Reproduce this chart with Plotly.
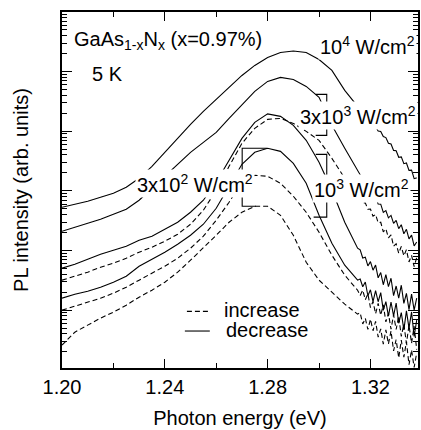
import plotly.graph_objects as go

# Photon energy grid (eV), smooth part and noisy high-energy tail
energy = [1.200, 1.205, 1.210, 1.215, 1.220, 1.225, 1.230, 1.235, 1.240, 1.245,
          1.250, 1.255, 1.260, 1.265, 1.270, 1.275, 1.280, 1.285, 1.290, 1.295,
          1.300, 1.305, 1.310, 1.315]
energy_tail = [1.316, 1.317, 1.318, 1.319, 1.320, 1.321, 1.322, 1.323, 1.324, 1.325,
               1.326, 1.327, 1.328, 1.329, 1.330, 1.331, 1.332, 1.333, 1.334, 1.335,
               1.336, 1.337, 1.338]

# log10 of PL intensity (arb. units)
p1e4_dec = [2.725, 2.776, 2.826, 2.893, 2.960, 3.060, 3.211, 3.412, 3.647, 3.881,
            4.116, 4.333, 4.534, 4.752, 4.936, 5.104, 5.238, 5.322, 5.347, 5.322,
            5.204, 5.020, 4.685, 4.417]
p1e4_dec_tail = [4.363, 4.300, 4.266, 4.193, 4.159, 4.090, 4.077, 4.003, 3.995, 3.911,
                 3.894, 3.798, 3.786, 3.679, 3.672, 3.563, 3.570, 3.456, 3.468, 3.344,
                 3.347, 3.205, 3.218]

p3e3_dec = [2.323, 2.390, 2.457, 2.524, 2.608, 2.692, 2.843, 3.044, 3.261, 3.462,
            3.647, 3.814, 3.982, 4.216, 4.451, 4.668, 4.836, 4.903, 4.869, 4.752,
            4.568, 4.099, 3.714, 3.345]
p3e3_dec_tail = [3.288, 3.196, 3.164, 3.057, 3.035, 2.918, 2.906, 2.779, 2.777, 2.640,
                 2.671, 2.548, 2.589, 2.456, 2.507, 2.367, 2.432, 2.281, 2.356, 2.196,
                 2.259, 2.076, 2.144]

p1e3_dec = [1.704, 1.771, 1.854, 1.938, 2.005, 2.072, 2.173, 2.240, 2.357, 2.474,
            2.642, 2.843, 3.144, 3.513, 3.881, 4.149, 4.291, 4.250, 4.099, 3.848,
            3.479, 3.010, 2.474, 2.039]
p1e3_dec_tail = [2.012, 1.875, 1.888, 1.741, 1.814, 1.670, 1.757, 1.543, 1.630, 1.426,
                 1.596, 1.396, 1.535, 1.245, 1.405, 1.202, 1.418, 1.115, 1.281, 1.008,
                 1.270, 1.002, 1.203]

p3e3_inc = [1.503, 1.570, 1.637, 1.720, 1.787, 1.871, 1.972, 2.055, 2.156, 2.273,
            2.441, 2.675, 3.010, 3.412, 3.797, 4.049, 4.199, 4.216, 4.132, 3.998,
            3.848, 3.546, 3.211, 2.910]
p3e3_inc_tail = [2.883, 2.796, 2.799, 2.692, 2.695, 2.575, 2.605, 2.464, 2.474, 2.314,
                 2.364, 2.213, 2.263, 2.072, 2.112, 1.955, 2.068, 1.912, 2.015, 1.808,
                 1.919, 1.730, 1.881]

p3e2_dec = [1.201, 1.268, 1.318, 1.385, 1.469, 1.570, 1.737, 1.854, 1.972, 2.106,
            2.256, 2.441, 2.709, 3.077, 3.446, 3.647, 3.714, 3.663, 3.462, 3.127,
            2.591, 2.122, 1.754, 1.503]
p3e2_dec_tail = [1.523, 1.393, 1.472, 1.242, 1.342, 1.145, 1.328, 1.141, 1.294, 0.997,
                 1.144, 0.900, 1.137, 0.903, 1.120, 0.780, 0.960, 0.669, 0.989, 0.699,
                 0.970, 0.561, 0.832]

p1e3_inc = [1.000, 1.067, 1.134, 1.201, 1.285, 1.385, 1.503, 1.620, 1.737, 1.871,
            2.039, 2.240, 2.508, 2.809, 3.144, 3.261, 3.245, 3.127, 2.910, 2.642,
            2.307, 1.921, 1.586, 1.335]
p1e3_inc_tail = [1.245, 1.335, 1.174, 1.274, 1.044, 1.147, 0.940, 1.114, 0.917, 1.090,
                 0.803, 0.946, 0.680, 0.923, 0.676, 0.902, 0.559, 0.765, 0.442, 0.748,
                 0.445, 0.731, 0.338]

p3e2_inc = [0.414, 0.631, 0.749, 0.866, 0.966, 1.084, 1.218, 1.335, 1.469, 1.637,
            1.838, 2.039, 2.256, 2.474, 2.642, 2.742, 2.742, 2.591, 2.256, 1.804,
            1.503, 1.302, 1.101, 0.933]
p3e2_inc_tail = [0.956, 0.769, 0.863, 0.676, 0.849, 0.655, 0.812, 0.548, 0.685, 0.431,
                 0.668, 0.434, 0.651, 0.317, 0.504, 0.200, 0.497, 0.213, 0.470, 0.086,
                 0.332, 0.039, 0.285]

x_ticks = [1.20, 1.24, 1.28, 1.32]
x_tick_labels = ["1.20", "1.24", "1.28", "1.32"]
x_minor_ticks = [1.22, 1.26, 1.30, 1.34]

FONT = "Liberation Sans, Arial, Helvetica, sans-serif"
DASH = "5px,3px"

series = [
    (p1e4_dec, p1e4_dec_tail, "solid"),
    (p3e3_dec, p3e3_dec_tail, "solid"),
    (p1e3_dec, p1e3_dec_tail, "solid"),
    (p3e3_inc, p3e3_inc_tail, DASH),
    (p3e2_dec, p3e2_dec_tail, "solid"),
    (p1e3_inc, p1e3_inc_tail, DASH),
    (p3e2_inc, p3e2_inc_tail, DASH),
]

fig = go.Figure()
for main, tail, dash in series:
    fig.add_trace(go.Scatter(
        x=energy + energy_tail, y=[10 ** v for v in main + tail], mode="lines",
        line=dict(color="black", width=1.1, dash=dash),
        showlegend=False, hoverinfo="skip"))

axis_common = dict(showline=True, linecolor="black", linewidth=1.5, mirror="ticks",
                   ticks="inside", tickcolor="black", showgrid=False, zeroline=False,
                   tickfont=dict(size=20, color="black", family=FONT))

fig.update_xaxes(range=[1.20, 1.3385], tickvals=x_ticks, ticktext=x_tick_labels,
                 ticklen=9, tickwidth=1.2,
                 minor=dict(tickvals=x_minor_ticks, ticks="inside",
                            ticklen=5, tickcolor="black", tickwidth=1.2),
                 title=dict(text="Photon energy (eV)",
                            font=dict(size=20, color="black", family=FONT), standoff=14),
                 **axis_common)
fig.update_yaxes(type="log", range=[0.03, 6.0], dtick=1, showticklabels=False,
                 ticklen=10, tickwidth=1.2,
                 minor=dict(ticks="inside", ticklen=5, tickcolor="black", tickwidth=1,
                            dtick="D1"),
                 title=dict(text="PL intensity (arb. units)",
                            font=dict(size=20, color="black", family=FONT), standoff=26),
                 **axis_common)

# brackets linking increase/decrease pairs: (x_tip_top, y_top, x_spine, y_bottom, x_tip_bottom)
# x in eV, y in log10 intensity
brackets = [
    (1.2987, 4.618, 1.3030, 3.931, 1.2987),
    (1.2987, 3.613, 1.3030, 2.560, 1.2979),
    (1.2798, 3.714, 1.2701, 2.742, 1.2755),
]
for xt, yt, xs, yb, xb in brackets:
    fig.add_shape(type="path", xref="x", yref="y",
                  path=f"M {xt} {10 ** yt} L {xs} {10 ** yt} L {xs} {10 ** yb} L {xb} {10 ** yb}",
                  line=dict(color="black", width=1.1))


def label(text, x, y, xanchor="left", bg="white"):
    fig.add_annotation(text=text, x=x, y=y, xref="x", yref="y", xanchor=xanchor,
                       yanchor="middle", showarrow=False, bgcolor=bg, borderpad=1,
                       font=dict(size=20, color="black", family=FONT))


label("GaAs<sub>1-x</sub>N<sub>x</sub> (x=0.97%)", 1.2039, 5.523, bg="rgba(0,0,0,0)")
label("5 K", 1.2108, 4.953, bg="rgba(0,0,0,0)")
label("10<sup>4</sup> W/cm<sup>2</sup>", 1.3380, 5.44, xanchor="right")
label("3x10<sup>3</sup> W/cm<sup>2</sup>", 1.3385, 4.27, xanchor="right")
label("10<sup>3</sup> W/cm<sup>2</sup>", 1.2972, 3.04)
label("3x10<sup>2</sup> W/cm<sup>2</sup>", 1.2283, 3.12)

# legend samples (x in eV, y raw intensity)
fig.add_shape(type="line", xref="x", yref="y", x0=1.2486, x1=1.2575,
              y0=10 ** 0.98, y1=10 ** 0.98,
              line=dict(color="black", width=1.1, dash=DASH))
fig.add_shape(type="line", xref="x", yref="y", x0=1.2478, x1=1.2575,
              y0=10 ** 0.65, y1=10 ** 0.65,
              line=dict(color="black", width=1.1))
label("increase", 1.2623, 1.01, bg="rgba(0,0,0,0)")
label("decrease", 1.2631, 0.67, bg="rgba(0,0,0,0)")

fig.update_layout(width=421, height=430, margin=dict(l=62, r=1, t=11.5, b=62),
                  plot_bgcolor="white", paper_bgcolor="white",
                  font=dict(family=FONT, color="black"))

fig.write_html("out.html", config={"displayModeBar": False},
               post_script="document.body.style.margin='0';")
